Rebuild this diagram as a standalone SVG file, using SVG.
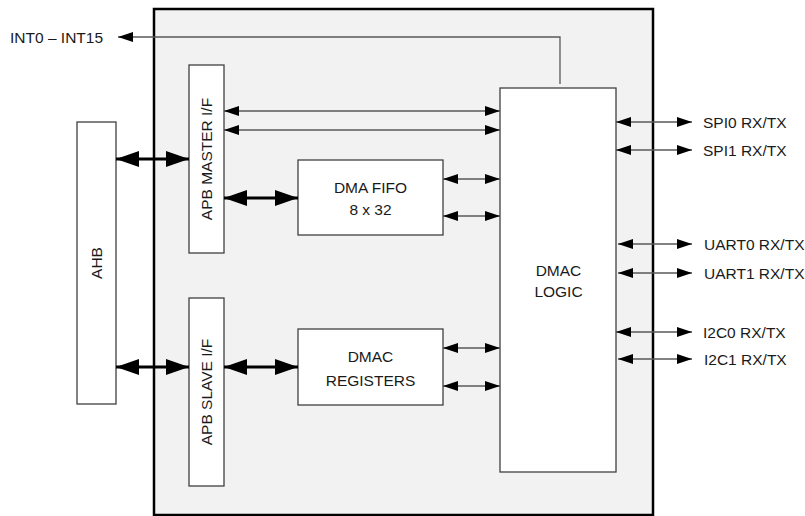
<svg xmlns="http://www.w3.org/2000/svg" width="805" height="516" viewBox="0 0 805 516">
<style>
.box{fill:#fff;stroke:#404040;stroke-width:1.3}
.t{font-family:"Liberation Sans",Arial,sans-serif;font-size:15.5px;fill:#1a1a1a}
.thin{stroke:#595959;stroke-width:1.3;fill:none}
.thick{stroke:#000;stroke-width:3.2;fill:none}
</style>
<defs>
<marker id="ah" markerUnits="userSpaceOnUse" markerWidth="15" markerHeight="10" refX="15" refY="5" orient="auto-start-reverse" viewBox="0 0 15 10">
<path d="M0,0 L15,5 L0,10 z" fill="#000"/>
</marker>
<marker id="ahb" markerUnits="userSpaceOnUse" markerWidth="23" markerHeight="16" refX="23" refY="8" orient="auto-start-reverse" viewBox="0 0 23 16">
<path d="M0,0 L23,8 L0,16 z" fill="#000"/>
</marker>
</defs>
<rect width="805" height="516" fill="#fff"/>
<g id="chip">
<rect x="154" y="9" width="499" height="506" fill="#f2f2f2" stroke="#000" stroke-width="2.5"/>
</g>
<g id="ahb">
<rect class="box" x="77" y="122" width="39" height="282"/>
<text class="t" text-anchor="middle" transform="translate(96.5,263) rotate(-90)" dy="5.5">AHB</text>
</g>
<g id="apb-master">
<rect class="box" x="189" y="65" width="35" height="188"/>
<text class="t" text-anchor="middle" transform="translate(206.5,159) rotate(-90)" dy="5.5">APB MASTER I/F</text>
</g>
<g id="apb-slave">
<rect class="box" x="189" y="298" width="35" height="188"/>
<text class="t" text-anchor="middle" transform="translate(206.5,392) rotate(-90)" dy="5.5">APB SLAVE I/F</text>
</g>
<g id="dma-fifo">
<rect class="box" x="298" y="160" width="145" height="75"/>
<text class="t" text-anchor="middle" x="370.5" y="193">DMA FIFO</text>
<text class="t" text-anchor="middle" x="370.5" y="215">8 x 32</text>
</g>
<g id="dmac-registers">
<rect class="box" x="298" y="329" width="145" height="76"/>
<text class="t" text-anchor="middle" x="370.5" y="362">DMAC</text>
<text class="t" text-anchor="middle" x="370.5" y="386">REGISTERS</text>
</g>
<g id="dmac-logic">
<rect class="box" x="500" y="88" width="116" height="384"/>
<text class="t" text-anchor="middle" x="558.5" y="275.5">DMAC</text>
<text class="t" text-anchor="middle" x="558.5" y="297">LOGIC</text>
</g>
<g id="labels">
<text class="t" x="10" y="42.5">INT0 – INT15</text>
<text class="t" x="703" y="127.5">SPI0 RX/TX</text>
<text class="t" x="703" y="155.5">SPI1 RX/TX</text>
<text class="t" x="704" y="249.5">UART0 RX/TX</text>
<text class="t" x="704" y="278.5">UART1 RX/TX</text>
<text class="t" x="703" y="337.5">I2C0 RX/TX</text>
<text class="t" x="704" y="364.5">I2C1 RX/TX</text>
</g>
<g id="connectors">
<path class="thin" d="M560,84 V37 H118" marker-end="url(#ah)"/>
<line class="thin" x1="224" y1="111" x2="500" y2="111" marker-start="url(#ah)" marker-end="url(#ah)"/>
<line class="thin" x1="224" y1="130" x2="500" y2="130" marker-start="url(#ah)" marker-end="url(#ah)"/>
<line class="thick" x1="116" y1="159" x2="189" y2="159" marker-start="url(#ahb)" marker-end="url(#ahb)"/>
<line class="thick" x1="224" y1="198" x2="298" y2="198" marker-start="url(#ahb)" marker-end="url(#ahb)"/>
<line class="thick" x1="116" y1="367" x2="189" y2="367" marker-start="url(#ahb)" marker-end="url(#ahb)"/>
<line class="thick" x1="224" y1="367" x2="298" y2="367" marker-start="url(#ahb)" marker-end="url(#ahb)"/>
<line class="thin" x1="443" y1="179" x2="500" y2="179" marker-start="url(#ah)" marker-end="url(#ah)"/>
<line class="thin" x1="443" y1="216" x2="500" y2="216" marker-start="url(#ah)" marker-end="url(#ah)"/>
<line class="thin" x1="443" y1="348" x2="500" y2="348" marker-start="url(#ah)" marker-end="url(#ah)"/>
<line class="thin" x1="443" y1="386" x2="500" y2="386" marker-start="url(#ah)" marker-end="url(#ah)"/>
<line class="thin" x1="616" y1="122" x2="692" y2="122" marker-start="url(#ah)" marker-end="url(#ah)"/>
<line class="thin" x1="616" y1="150" x2="692" y2="150" marker-start="url(#ah)" marker-end="url(#ah)"/>
<line class="thin" x1="618" y1="244" x2="692" y2="244" marker-start="url(#ah)" marker-end="url(#ah)"/>
<line class="thin" x1="618" y1="273" x2="692" y2="273" marker-start="url(#ah)" marker-end="url(#ah)"/>
<line class="thin" x1="616" y1="332" x2="692" y2="332" marker-start="url(#ah)" marker-end="url(#ah)"/>
<line class="thin" x1="618" y1="359" x2="692" y2="359" marker-start="url(#ah)" marker-end="url(#ah)"/>
</g>
</svg>
